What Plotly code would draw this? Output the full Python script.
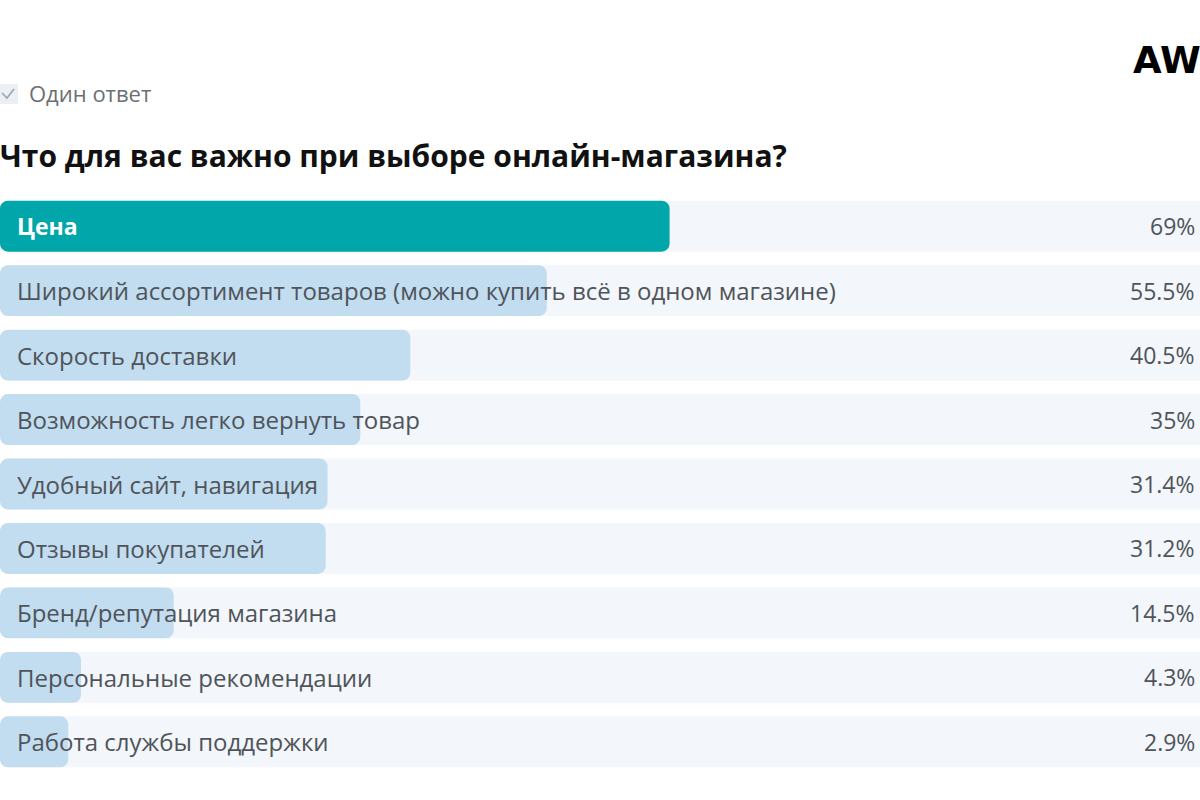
import plotly.graph_objects as go

# --- data ---
categories = [
    "Цена",
    "Широкий ассортимент товаров (можно купить всё в одном магазине)",
    "Скорость доставки",
    "Возможность легко вернуть товар",
    "Удобный сайт, навигация",
    "Отзывы покупателей",
    "Бренд/репутация магазина",
    "Персональные рекомендации",
    "Работа службы поддержки",
]
shares = [69, 55.5, 40.5, 35, 31.4, 31.2, 14.5, 4.3, 2.9]
share_labels = ["69%", "55.5%", "40.5%", "35%", "31.4%", "31.2%", "14.5%", "4.3%", "2.9%"]

title = "Что для вас важно при выборе онлайн-магазина?"
subtitle = "Один ответ"

# --- page geometry (px) ---
W, H = 1200, 800
TOP, BOTTOM = 194, 774
PAD = 4.6          # small lead so short bars stay visible
X_MAX = 127.3

TEAL = "#00a6aa"
LIGHT_BLUE = "#c2dcf0"
TRACK = "#f3f6fb"
TEXT_GREY = "#4f545a"
FONT = "Open Sans"


def py(y_px):
    # pixel from top -> paper y
    return (BOTTOM - y_px) / (BOTTOM - TOP)


def px(x_px):
    return x_px / W


bar_colors = [TEAL] + [LIGHT_BLUE] * (len(categories) - 1)

fig = go.Figure()

# background tracks
fig.add_trace(go.Bar(
    y=categories, x=[X_MAX + PAD + 20] * len(categories), base=-PAD,
    orientation="h", marker=dict(color=TRACK, line=dict(width=0)),
    width=0.79, hoverinfo="skip", showlegend=False,
))
# answer bars
fig.add_trace(go.Bar(
    y=categories, x=[v + PAD for v in shares], base=-PAD,
    orientation="h", marker=dict(color=bar_colors, line=dict(width=0)),
    width=0.79, customdata=share_labels,
    hovertemplate="%{y}: %{customdata}<extra></extra>", showlegend=False,
))

annotations = []
for i, (cat, lab) in enumerate(zip(categories, share_labels)):
    first = i == 0
    annotations.append(dict(
        x=px(15), xref="paper", y=cat, yref="y", xanchor="left", yanchor="middle",
        text=f"<b>{cat}</b>" if first else cat, showarrow=False,
        font=dict(family=FONT, size=24 if not first else 23,
                  color="white" if first else TEXT_GREY),
    ))
    annotations.append(dict(
        x=1 - 3 / W, xref="paper", y=cat, yref="y", xanchor="right", yanchor="middle",
        text=lab, showarrow=False,
        font=dict(family=FONT, size=23, color=TEXT_GREY),
    ))

# header texts
annotations += [
    dict(x=px(-2), y=py(155), xref="paper", yref="paper", xanchor="left", yanchor="middle",
         text=f"<b>{title}</b>", showarrow=False,
         font=dict(family=FONT, size=30, color="#111111")),
    dict(x=px(27), y=py(93), xref="paper", yref="paper", xanchor="left", yanchor="middle",
         text=subtitle, showarrow=False,
         font=dict(family=FONT, size=22, color="#6b6f74")),
    dict(x=px(1131), y=py(60), xref="paper", yref="paper", xanchor="left", yanchor="middle",
         text="<b>AW</b>", showarrow=False,
         font=dict(family="DejaVu Sans", size=37, color="#000000")),
]

shapes = [
    # checkbox
    dict(type="rect", xref="paper", yref="paper",
         x0=px(-4), x1=px(18), y0=py(104), y1=py(84),
         fillcolor="#eceff3", line=dict(width=0), layer="above"),
    dict(type="path", xref="paper", yref="paper",
         path=f"M {px(2)} {py(93)} L {px(7)} {py(98)} L {px(14)} {py(89)}",
         line=dict(color="#9aa3ad", width=1.5), layer="above"),
]

fig.update_layout(
    width=W, height=H,
    margin=dict(l=0, r=0, t=TOP, b=H - BOTTOM),
    paper_bgcolor="white", plot_bgcolor="white",
    barmode="overlay", barcornerradius=8,
    xaxis=dict(range=[-PAD, X_MAX], visible=False, fixedrange=True),
    yaxis=dict(autorange="reversed", visible=False, fixedrange=True),
    annotations=annotations, shapes=shapes,
    font=dict(family=FONT),
)

fig.write_html("out.html", config={"displayModeBar": False},
               post_script="document.body.style.margin='0';")
